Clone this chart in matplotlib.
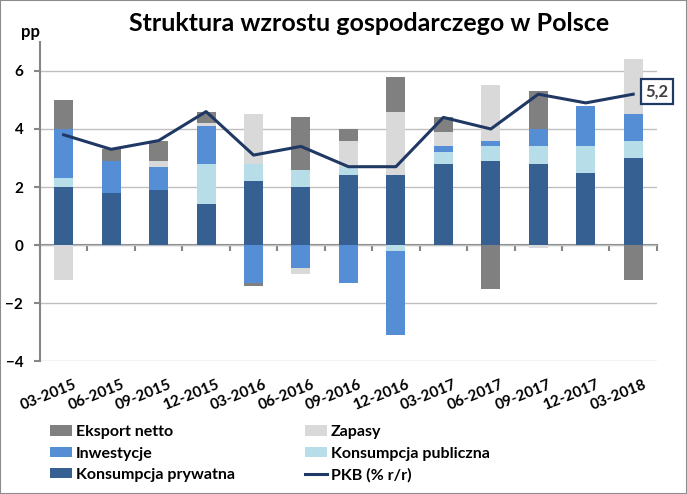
import numpy as np
import matplotlib
matplotlib.use("Agg")
import matplotlib.pyplot as plt
from matplotlib.patches import Rectangle
from matplotlib.transforms import ScaledTranslation

plt.rcParams['font.family'] = ['Lato', 'DejaVu Sans']
plt.rcParams['font.weight'] = 'bold'

# data (pp contributions to GDP growth)
quarters = ['03-2015', '06-2015', '09-2015', '12-2015', '03-2016', '06-2016', '09-2016',
            '12-2016', '03-2017', '06-2017', '09-2017', '12-2017', '03-2018']
konsumpcja_prywatna = [2.0, 1.8, 1.9, 1.4, 2.2, 2.0, 2.4, 2.4, 2.8, 2.9, 2.8, 2.5, 3.0]
konsumpcja_publiczna = [0.3, 0.0, 0.0, 1.4, 0.6, 0.6, 0.3, -0.2, 0.4, 0.5, 0.6, 0.9, 0.6]
inwestycje = [1.7, 1.1, 0.8, 1.3, -1.3, -0.8, -1.3, -2.9, 0.2, 0.2, 0.6, 1.4, 0.9]
zapasy = [-1.2, 0.0, 0.2, 0.1, 1.7, -0.2, 0.9, 2.2, 0.5, 1.9, -0.1, 0.0, 1.9]
eksport_netto = [1.0, 0.4, 0.7, 0.4, -0.1, 1.8, 0.4, 1.2, 0.5, -1.5, 1.3, 0.0, -1.2]
pkb = [3.8, 3.3, 3.6, 4.6, 3.1, 3.4, 2.7, 2.7, 4.4, 4.0, 5.2, 4.9, 5.2]

series = [
    ('Konsumpcja prywatna', konsumpcja_prywatna, '#376092'),
    ('Konsumpcja publiczna', konsumpcja_publiczna, '#b7dee8'),
    ('Inwestycje', inwestycje, '#558ed5'),
    ('Zapasy', zapasy, '#d9d9d9'),
    ('Eksport netto', eksport_netto, '#808080'),
]
line_color = '#1f3864'
axis_gray = '#868686'
grid_gray = '#bfbfbf'

fig = plt.figure(figsize=(6.87, 4.94), dpi=100)
ax = fig.add_axes([0.0582, 0.2692, 0.898, 0.6458])

x = np.arange(len(quarters))
pos_base = np.zeros(len(x))
neg_base = np.zeros(len(x))
bars = {}
for name, vals, color in series:
    v = np.array(vals)
    bottom = np.where(v >= 0, pos_base, neg_base)
    bars[name] = ax.bar(x, v, 0.4, bottom=bottom, color=color, zorder=2, label=name)
    pos_base += np.where(v >= 0, v, 0)
    neg_base += np.where(v < 0, v, 0)

line, = ax.plot(x, pkb, color=line_color, lw=2.2, zorder=3, label='PKB (% r/r)')
ax.annotate(f'{pkb[-1]:.1f}'.replace('.', ','), (x[-1], pkb[-1]), xytext=(17, 2),
            textcoords='offset points', ha='center', va='center', fontsize=12,
            color='#404040',
            bbox=dict(boxstyle='square,pad=0.25', fc='white', ec=line_color, lw=1.6))

ymin, ymax = -4, 7
ax.set_ylim(ymin, ymax)
ax.set_xlim(-0.5, len(x) - 0.5)
ax.set_yticks([-4, -2, 0, 2, 4, 6])
ax.grid(axis='y', color=grid_gray, lw=1, zorder=0)
ax.tick_params(axis='y', length=4, color=axis_gray, width=1.5, labelsize=11, pad=8)
for s in ['top', 'right', 'bottom']:
    ax.spines[s].set_visible(False)
ax.spines['left'].set_color(axis_gray)
ax.spines['left'].set_linewidth(1.5)

ax.set_xticks(x)
ax.set_xticklabels(quarters, rotation=22, ha='right', rotation_mode='anchor', fontsize=11)
ax.tick_params(axis='x', length=0, pad=12)
for lab in ax.get_xticklabels():
    lab.set_transform(lab.get_transform() + ScaledTranslation(0.1, 0, fig.dpi_scale_trans))

# category axis line at zero with boundary ticks
sec = ax.secondary_xaxis((0 - ymin) / (ymax - ymin))
sec.set_xticks(np.arange(len(x) + 1) - 0.5)
sec.tick_params(length=4, color=axis_gray, width=1.5, labelbottom=False)
sec.spines['bottom'].set_color(axis_gray)
sec.spines['bottom'].set_linewidth(1.5)

fig.text(0.537, 0.953, 'Struktura wzrostu gospodarczego w Polsce', ha='center', va='center',
         fontsize=18)
fig.text(0.044, 0.935, 'pp', ha='center', va='center', fontsize=12)

legend_kw = dict(loc='upper left', frameon=False, fontsize=11.5, handlelength=1.35,
                 handleheight=0.66, handletextpad=0.25, labelspacing=0.45,
                 borderpad=0, borderaxespad=0)
fig.legend([bars['Eksport netto'], bars['Inwestycje'], bars['Konsumpcja prywatna']],
           ['Eksport netto', 'Inwestycje', 'Konsumpcja prywatna'],
           bbox_to_anchor=(0.0728, 0.139), **legend_kw)
fig.legend([bars['Zapasy'], bars['Konsumpcja publiczna'], line],
           ['Zapasy', 'Konsumpcja publiczna', 'PKB (% r/r)'],
           bbox_to_anchor=(0.444, 0.139), **legend_kw)

fig.patches.append(Rectangle((0, 0), 1, 1, transform=fig.transFigure, fill=False,
                             ec='#8c8c8c', lw=1.5))

fig.savefig('out.png', dpi=100)
